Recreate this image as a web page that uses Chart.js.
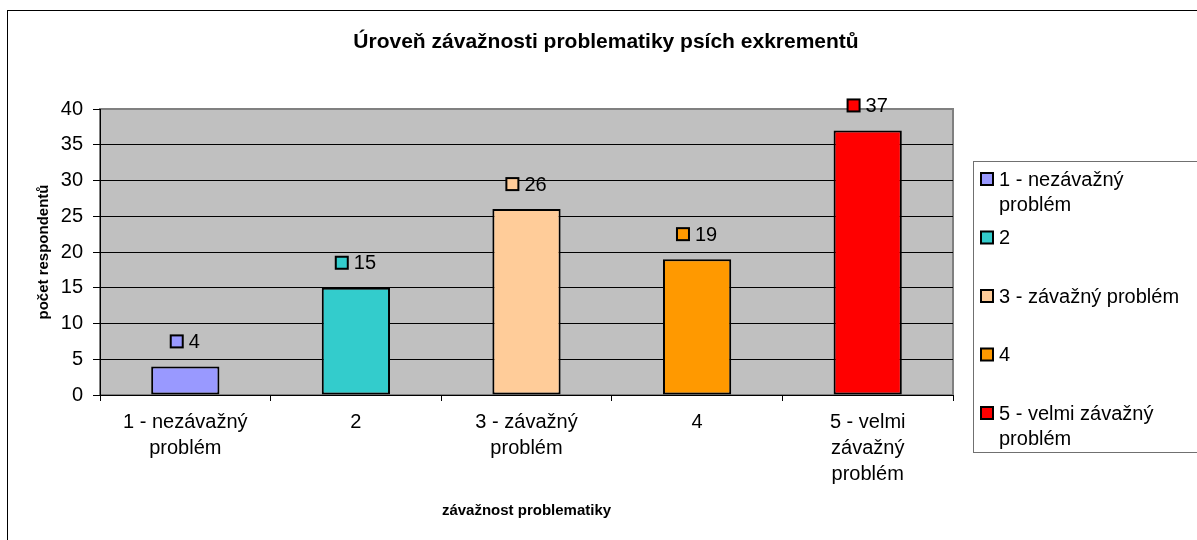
<!DOCTYPE html>
<html>
<head>
<meta charset="utf-8">
<script src="https://cdn.jsdelivr.net/npm/chart.js@4.4.0/dist/chart.umd.min.js"></script>
<style>
  html, body { margin: 0; padding: 0; background: #fff; }
</style>
</head>
<body>
<canvas id="chart" width="1197" height="540"></canvas>
<script>
// data
const categories = ['1 - nezávažný problém', '2', '3 - závažný problém', '4', '5 - velmi závažný problém'];
const counts = [4, 15, 26, 19, 37];
const barColors = ['#9999FF', '#33CCCC', '#FFCC99', '#FF9900', '#FF0000'];
const tickLines = [['1 - nezávažný', 'problém'], ['2'], ['3 - závažný', 'problém'], ['4'], ['5 - velmi', 'závažný', 'problém']];
const legendLines = [['1 - nezávažný', 'problém'], ['2'], ['3 - závažný problém'], ['4'], ['5 - velmi závažný', 'problém']];
const chartTitle = 'Úroveň závažnosti problematiky psích exkrementů';
const xTitle = 'závažnost problematiky';
const yTitle = 'počet respondentů';

const FONT = '"Liberation Sans", Arial, sans-serif';
Chart.defaults.font.family = FONT;
Chart.defaults.color = '#000';

// plot background, value labels, legend and titles (Excel look)
const excelDecor = {
  id: 'excelDecor',
  beforeDraw(chart) {
    const { ctx, chartArea: a } = chart;
    ctx.save();
    ctx.fillStyle = '#C0C0C0';
    ctx.fillRect(a.left, a.top, a.right - a.left, a.bottom - a.top);
    ctx.strokeStyle = '#808080';
    ctx.lineWidth = 2;
    ctx.strokeRect(a.left, a.top, a.right - a.left, a.bottom - a.top);
    ctx.restore();
  },
  afterDatasetsDraw(chart) {
    const ctx = chart.ctx;
    const meta = chart.getDatasetMeta(0);
    ctx.save();
    ctx.font = '20px ' + FONT;
    ctx.textBaseline = 'middle';
    meta.data.forEach((bar, i) => {
      const txt = String(counts[i]);
      const w = ctx.measureText(txt).width;
      const sq = 12, gap = 6;
      const x0 = bar.x - (sq + gap + w) / 2;
      const cy = bar.y - 25;
      ctx.fillStyle = barColors[i];
      ctx.fillRect(x0, cy - sq / 2, sq, sq);
      ctx.strokeStyle = '#000';
      ctx.lineWidth = 2;
      ctx.strokeRect(x0, cy - sq / 2, sq, sq);
      ctx.fillStyle = '#000';
      ctx.textAlign = 'left';
      ctx.fillText(txt, x0 + sq + gap, cy + 1);
    });
    ctx.restore();
  },
  afterDraw(chart) {
    const { ctx, chartArea: a } = chart;
    ctx.save();
    ctx.fillStyle = '#000';
    // chart title
    ctx.font = 'bold 21px ' + FONT;
    ctx.textAlign = 'center';
    ctx.textBaseline = 'middle';
    ctx.fillText(chartTitle, 606, 42);
    // axis titles
    ctx.font = 'bold 15px ' + FONT;
    ctx.fillText(xTitle, (a.left + a.right) / 2, 511);
    ctx.save();
    ctx.translate(44, (a.top + a.bottom) / 2);
    ctx.rotate(-Math.PI / 2);
    ctx.fillText(yTitle, 0, 0);
    ctx.restore();

    // legend box
    ctx.fillStyle = '#fff';
    ctx.fillRect(973.5, 161.5, 400, 291);
    ctx.strokeStyle = '#707070';
    ctx.lineWidth = 1;
    ctx.strokeRect(973.5, 161.5, 400, 291);
    ctx.font = '20px ' + FONT;
    ctx.textAlign = 'left';
    legendLines.forEach((lines, i) => {
      const y = 179 + i * 58.5;
      ctx.fillStyle = barColors[i];
      ctx.fillRect(981, y - 6, 12, 12);
      ctx.strokeStyle = '#000';
      ctx.lineWidth = 2;
      ctx.strokeRect(981, y - 6, 12, 12);
      ctx.fillStyle = '#000';
      lines.forEach((ln, j) => ctx.fillText(ln, 999, y + 1 + j * 25));
    });

    // outer chart frame
    ctx.strokeStyle = '#000';
    ctx.lineWidth = 1;
    ctx.strokeRect(7.5, 10.5, 1400, 800);
    ctx.restore();
  }
};

new Chart(document.getElementById('chart'), {
  type: 'bar',
  data: {
    labels: categories,
    datasets: [{
      label: 'počet respondentů',
      data: counts,
      backgroundColor: barColors,
      borderColor: '#000',
      borderWidth: 2,
      borderSkipped: false,
      categoryPercentage: 0.4,
      barPercentage: 1.0
    }]
  },
  options: {
    responsive: false,
    animation: false,
    devicePixelRatio: 1,
    layout: { padding: { top: 109, right: 244, bottom: 0, left: 0 } },
    plugins: {
      legend: { display: false },
      tooltip: { enabled: false },
      title: { display: false }
    },
    scales: {
      x: {
        offset: true,
        grid: { offset: true, drawOnChartArea: false, drawTicks: true, tickLength: 6, color: '#000' },
        border: { color: '#000', width: 1 },
        ticks: {
          color: '#000',
          font: { size: 20, lineHeight: 1.3 },
          padding: 8,
          maxRotation: 0,
          autoSkip: false,
          callback: (v, i) => tickLines[i]
        },
        afterFit(s) { s.height = 145; }
      },
      y: {
        min: 0,
        max: 40,
        ticks: { stepSize: 5, color: '#000', font: { size: 20 }, padding: 10 },
        grid: {
          color: c => (c.tick && c.tick.value === 40 ? '#808080' : '#000'),
          tickColor: '#000',
          tickLength: 7,
          lineWidth: 1
        },
        border: { color: '#000', width: 1 },
        afterFit(s) { s.width = 100; }
      }
    }
  },
  plugins: [excelDecor]
});
</script>
</body>
</html>
